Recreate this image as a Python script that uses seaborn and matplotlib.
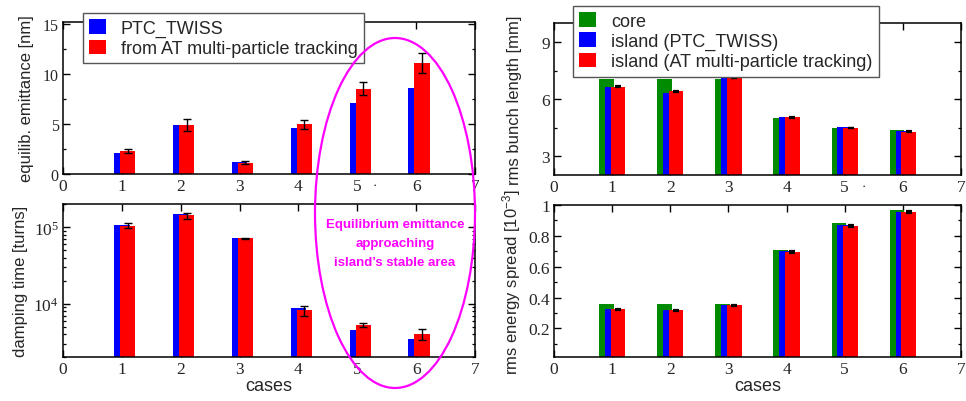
import numpy as np
import matplotlib
matplotlib.use("Agg")
import matplotlib.pyplot as plt
import matplotlib.ticker as mticker
from matplotlib.patches import Patch, Ellipse
import seaborn as sns

# ---------------- data ----------------
cases = [1, 2, 3, 4, 5, 6]
xticks = [0, 1, 2, 3, 4, 5, 6, 7]

emit_ptc = [2.14, 4.93, 1.18, 4.60, 7.14, 8.65]
emit_at = [2.27, 4.93, 1.15, 5.00, 8.55, 11.08]
emit_at_err = [0.20, 0.60, 0.15, 0.45, 0.65, 1.00]

damp_ptc = [1.08e5, 1.50e5, 7.17e4, 8.86e3, 4.55e3, 3.43e3]
damp_at = [1.06e5, 1.47e5, 7.20e4, 8.20e3, 5.30e3, 4.00e3]
damp_at_lo = [0.98e5, 1.29e5, 7.10e4, 7.00e3, 4.90e3, 3.30e3]
damp_at_hi = [1.13e5, 1.57e5, 7.30e4, 9.30e3, 5.60e3, 4.60e3]

bunch_core = [7.06, 7.06, 7.06, 5.01, 4.46, 4.36]
bunch_ptc = [6.65, 6.34, 7.13, 5.05, 4.51, 4.30]
bunch_at = [6.65, 6.41, 7.11, 5.03, 4.48, 4.27]
bunch_at_err = [0.02, 0.02, 0.02, 0.02, 0.02, 0.02]

spread_core = [0.356, 0.356, 0.356, 0.706, 0.881, 0.968]
spread_ptc = [0.325, 0.317, 0.351, 0.700, 0.870, 0.955]
spread_at = [0.325, 0.317, 0.349, 0.695, 0.864, 0.955]
spread_at_err = [0.004, 0.004, 0.004, 0.004, 0.004, 0.004]

left_labels = ["PTC_TWISS", "from AT multi-particle tracking"]
right_labels = ["core", "island (PTC_TWISS)", "island (AT multi-particle tracking)"]
note = "Equilibrium emittance\napproaching\nisland\u2019s stable area"

# ---------------- style ----------------
sns.set_style("ticks")
plt.rcParams["font.family"] = ["Liberation Serif", "DejaVu Serif"]
plt.rcParams["axes.linewidth"] = 1.1
plt.rcParams["mathtext.fontset"] = "stix"

BLUE, RED, GREEN, MAG = "#0000ff", "#ff0000", "#008b00", "#ff00ff"
SANS = "Liberation Sans"

W, H = 966, 402
fig = plt.figure(figsize=(W / 100, H / 100), dpi=100)


def add_ax(l, r, t, b):
    return fig.add_axes([l / W, 1 - b / H, (r - l) / W, (b - t) / H])


ax_tl = add_ax(63, 475, 23, 175)
ax_bl = add_ax(63, 475, 205, 358)
ax_tr = add_ax(554, 961, 24, 176)
ax_br = add_ax(554, 961, 206, 358)

ax_bl.set_yscale("log")


def bars(ax, offset, vals, color, width):
    sns.barplot(x=[c + offset for c in cases], y=vals, color=color,
                width=width, native_scale=True, saturation=1,
                errorbar=None, linewidth=0, orient="x", ax=ax)


def errs(ax, offset, vals, err, capsize, lw=1.0, cth=1.0):
    ax.errorbar([c + offset for c in cases], vals, yerr=err, fmt="none",
                ecolor="black", elinewidth=lw, capsize=capsize,
                capthick=cth, zorder=5)


# left column
bars(ax_tl, 0.0, emit_ptc, BLUE, 0.26)
bars(ax_tl, 0.1, emit_at, RED, 0.26)
errs(ax_tl, 0.1, emit_at, emit_at_err, 3.2)

bars(ax_bl, 0.0, damp_ptc, BLUE, 0.26)
bars(ax_bl, 0.1, damp_at, RED, 0.26)
lo = np.array(damp_at) - np.array(damp_at_lo)
hi = np.array(damp_at_hi) - np.array(damp_at)
errs(ax_bl, 0.1, damp_at, [lo, hi], 3.2)

# right column
bars(ax_tr, -0.1, bunch_core, GREEN, 0.25)
bars(ax_tr, 0.0, bunch_ptc, BLUE, 0.25)
bars(ax_tr, 0.1, bunch_at, RED, 0.25)
errs(ax_tr, 0.1, bunch_at, bunch_at_err, 2.5, 1.2, 1.6)

bars(ax_br, -0.1, spread_core, GREEN, 0.25)
bars(ax_br, 0.0, spread_ptc, BLUE, 0.25)
bars(ax_br, 0.1, spread_at, RED, 0.25)
errs(ax_br, 0.1, spread_at, spread_at_err, 2.5, 1.2, 1.6)

# ---------------- axes formatting ----------------
for ax in (ax_tl, ax_bl, ax_tr, ax_br):
    ax.set_xlim(0, 7)
    ax.set_xticks(xticks)
    ax.set_xticklabels([str(t) for t in xticks])
    ax.tick_params(which="both", direction="in", top=True, right=True,
                   color="black")
    ax.tick_params(which="major", length=5, width=1.0)
    ax.tick_params(which="minor", length=2.5, width=0.9)
    ax.tick_params(axis="x", labelsize=12.5, pad=3)
    ax.xaxis.set_minor_locator(mticker.NullLocator())
    for s in ax.spines.values():
        s.set_visible(True)
        s.set_color("black")
    ax.set_xlabel("")
    ax.set_ylabel("")

ax_tl.set_ylim(0, 15.2)
ax_tl.set_yticks([0, 5, 10, 15])
ax_tl.yaxis.set_minor_locator(mticker.MultipleLocator(2.5))
ax_tl.tick_params(axis="y", labelsize=11.5, pad=3)

ax_bl.set_ylim(2000, 2.03e5)
ax_bl.yaxis.set_major_locator(mticker.LogLocator(base=10, numticks=10))
ax_bl.yaxis.set_minor_locator(mticker.LogLocator(base=10, subs=np.arange(2, 10), numticks=20))
ax_bl.yaxis.set_major_formatter(mticker.FuncFormatter(
    lambda v, p: r"$\mathregular{10^{%d}}$" % int(round(np.log10(v)))))
ax_bl.yaxis.set_minor_formatter(mticker.NullFormatter())
ax_bl.tick_params(axis="y", labelsize=12.5, pad=3)

ax_tr.set_ylim(2, 10)
ax_tr.set_yticks([3, 6, 9])
ax_tr.yaxis.set_minor_locator(mticker.MultipleLocator(1.5))
ax_tr.tick_params(axis="y", labelsize=12.5, pad=3)

ax_br.set_ylim(0.015, 1.0)
ax_br.set_yticks([0.2, 0.4, 0.6, 0.8, 1.0])
ax_br.set_yticklabels(["0.2", "0.4", "0.6", "0.8", "1"])
ax_br.yaxis.set_minor_locator(mticker.FixedLocator([0.1, 0.3, 0.5, 0.7, 0.9]))
ax_br.tick_params(axis="y", labelsize=12.5, pad=3)

lab = dict(family=SANS, fontsize=12)
ax_tl.set_ylabel("equilib. emittance [nm]", labelpad=6, **lab)
ax_bl.set_ylabel("damping time [turns]", labelpad=4, **lab)
ax_tr.set_ylabel("rms bunch length [mm]", labelpad=14, **lab)
ax_br.set_ylabel(r"rms energy spread [$\mathregular{10^{-3}}$]", labelpad=4, **lab)
ax_bl.set_xlabel("cases", family=SANS, fontsize=13, labelpad=0)
ax_br.set_xlabel("cases", family=SANS, fontsize=13, labelpad=0)

# ---------------- legends ----------------
leg_kw = dict(frameon=True, fancybox=False, framealpha=1, edgecolor="#555555",
              handlelength=0.9, handleheight=0.85, handletextpad=0.85,
              borderpad=0.35, labelspacing=0.15, borderaxespad=0,
              prop={"family": SANS, "size": 13}, loc="upper left")
lh = [Patch(facecolor=c, edgecolor="none") for c in (BLUE, RED)]
leg1 = ax_tl.legend(lh, left_labels, bbox_to_anchor=(83 / W, 1 - 14 / H),
                    bbox_transform=fig.transFigure, **leg_kw)
leg1.get_frame().set_linewidth(1.0)
leg1.set_zorder(10)
rh = [Patch(facecolor=c, edgecolor="none") for c in (GREEN, BLUE, RED)]
leg2 = ax_tr.legend(rh, right_labels, bbox_to_anchor=(573 / W, 1 - 7 / H),
                    bbox_transform=fig.transFigure, **leg_kw)
leg2.get_frame().set_linewidth(1.0)
leg2.set_zorder(10)

# ---------------- overlay annotation ----------------
ov = fig.add_axes([0, 0, 1, 1], zorder=20)
ov.set_xlim(0, W)
ov.set_ylim(H, 0)
ov.axis("off")
ov.patch.set_alpha(0)
ov.add_patch(Ellipse((395, 214), 160, 350, fill=False, edgecolor=MAG, linewidth=1.6))
ov.text(395, 244, note, ha="center", va="center", color=MAG, fontsize=9.5,
        fontweight="bold", family=SANS, linespacing=1.75)
ov.text(375, 186, "\u00b7", ha="center", va="center", fontsize=9, color="black")
ov.text(864, 187, "\u00b7", ha="center", va="center", fontsize=9, color="black")

fig.savefig("out.png", dpi=100)
